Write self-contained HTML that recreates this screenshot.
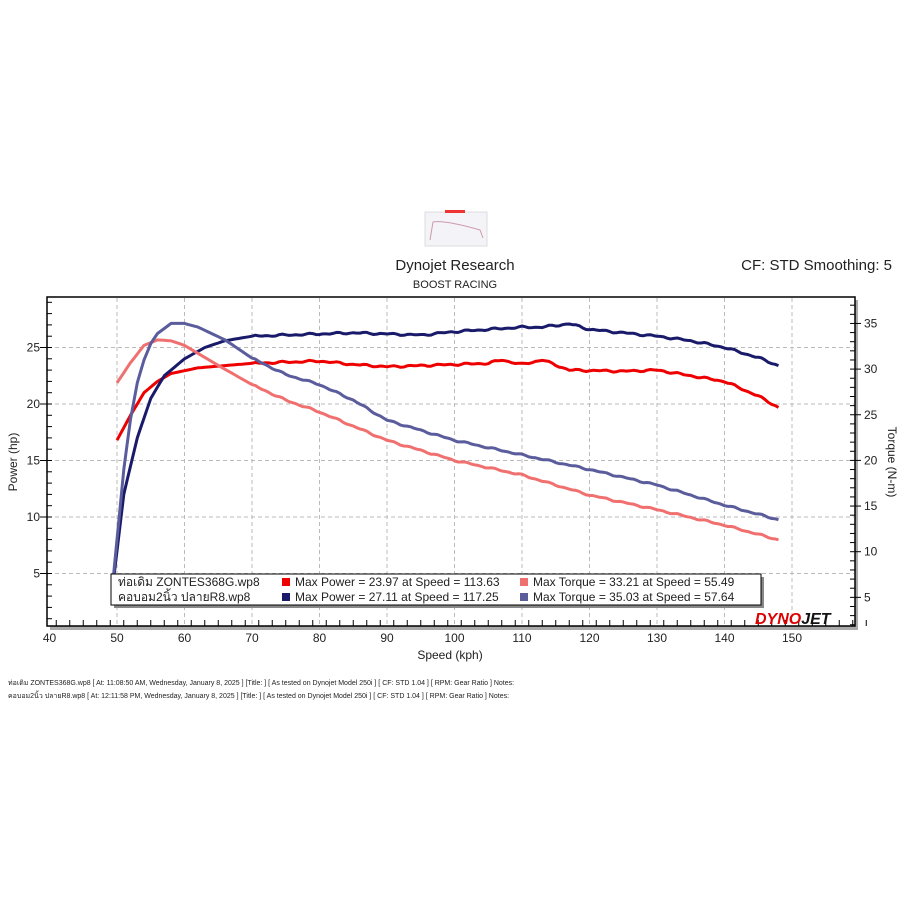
<!DOCTYPE html>
<html><head><meta charset="utf-8"><style>
body{margin:0;background:#fff;width:910px;height:910px;overflow:hidden}
svg{position:absolute;left:0;top:0}
text{font-family:"Liberation Sans","DejaVu Sans",sans-serif}
</style></head><body>
<svg id="s" width="910" height="910" xmlns="http://www.w3.org/2000/svg">
<rect x="0" y="0" width="910" height="910" fill="#fff"/>
<rect x="425" y="212" width="62" height="34" fill="#f4f4f8" stroke="#ddd"/>
<path d="M430,240 L433,222 Q445,220 480,230 L483,238" fill="none" stroke="#c9a" stroke-width="1"/>
<rect x="445" y="210" width="20" height="3" fill="#e33"/>
<text x="455" y="270" font-size="15" text-anchor="middle" fill="#222">Dynojet Research</text>
<text x="455" y="288" font-size="11" text-anchor="middle" fill="#222">BOOST RACING</text>
<text x="892" y="270" font-size="15" text-anchor="end" fill="#222">CF: STD Smoothing: 5</text>
<rect x="50" y="300" width="808" height="330" fill="#aaa"/>
<rect x="47" y="297" width="808" height="329" fill="#fff" stroke="#000" stroke-width="1.5"/>
<g id="grid" stroke="#bbb" stroke-dasharray="4,3" stroke-width="1"></g>
<g id="ticks" stroke="#000" stroke-width="1"></g>
<g id="lbl" font-size="12" fill="#222"></g>
<g id="curves" fill="none" stroke-width="3" stroke-linejoin="round"></g>
<text x="450" y="659" font-size="12" text-anchor="middle" fill="#222">Speed (kph)</text>
<text transform="translate(17,462) rotate(-90)" font-size="12" text-anchor="middle" fill="#222">Power (hp)</text>
<text transform="translate(888,462) rotate(90)" font-size="12" text-anchor="middle" fill="#222">Torque (N-m)</text>
<rect x="114" y="577" width="650" height="31" fill="#888"/>
<rect x="111" y="574" width="650" height="31" fill="#fff" stroke="#000"/>
<g font-size="12" fill="#222">
<text x="118" y="586">ท่อเดิม ZONTES368G.wp8</text>
<text x="118" y="601">คอบอม2นิ้ว ปลายR8.wp8</text>
<rect x="282" y="578" width="8" height="8" fill="#e00"/>
<text x="295" y="586">Max Power = 23.97 at Speed = 113.63</text>
<rect x="282" y="593" width="8" height="8" fill="#1a1a6a"/>
<text x="295" y="601">Max Power = 27.11 at Speed = 117.25</text>
<rect x="520" y="578" width="8" height="8" fill="#f07070"/>
<text x="533" y="586">Max Torque = 33.21 at Speed = 55.49</text>
<rect x="520" y="593" width="8" height="8" fill="#5a5c9c"/>
<text x="533" y="601">Max Torque = 35.03 at Speed = 57.64</text>
</g>
<text x="755" y="624" font-size="16" font-weight="bold" font-style="italic" fill="#d00">DYNO<tspan fill="#111">JET</tspan></text>
<g font-size="7" fill="#222">
<text x="8" y="685">ท่อเดิม ZONTES368G.wp8 [ At: 11:08:50 AM, Wednesday, January 8, 2025 ] [Title: ]  [ As tested on Dynojet Model 250i ] [ CF: STD 1.04 ] [ RPM: Gear Ratio ] Notes:</text>
<text x="8" y="698">คอบอม2นิ้ว ปลายR8.wp8 [ At: 12:11:58 PM, Wednesday, January 8, 2025 ] [Title: ]  [ As tested on Dynojet Model 250i ] [ CF: STD 1.04 ] [ RPM: Gear Ratio ] Notes:</text>
</g>
</svg>
<script>
const X=s=>117+(s-50)*6.75, YL=h=>630-h*11.3, YR=t=>643-t*9.13;
const ns="http://www.w3.org/2000/svg";
function el(p,t,a,txt){const e=document.createElementNS(ns,t);for(const k in a)e.setAttribute(k,a[k]);if(txt!==undefined)e.textContent=txt;document.getElementById(p).appendChild(e);}
for(let s=50;s<=150;s+=10){el('grid','line',{x1:X(s),x2:X(s),y1:298,y2:625});el('lbl','text',{x:X(s),y:642,'text-anchor':'middle'},s);}
el('lbl','text',{x:X(40),y:642,'text-anchor':'middle'},40);
for(let h=5;h<=25;h+=5){el('grid','line',{x1:48,x2:854,y1:YL(h),y2:YL(h)});el('lbl','text',{x:40,y:YL(h)+4,'text-anchor':'end'},h);el('ticks','line',{x1:40,x2:47,y1:YL(h),y2:YL(h)});}
for(let h=1;h<=29;h++)el('ticks','line',{x1:47,x2:52,y1:YL(h),y2:YL(h)});
for(let t=5;t<=35;t+=5){el('lbl','text',{x:864,y:YR(t)+4},t);el('ticks','line',{x1:855,x2:861,y1:YR(t),y2:YR(t)});}
for(let t=2;t<=37;t++)el('ticks','line',{x1:850,x2:855,y1:YR(t),y2:YR(t)});
for(let s=41;s<=161;s+=2)el('ticks','line',{x1:X(s),x2:X(s),y1:620,y2:626});
function curve(pts,f,col,jit){let d='';
 for(let i=0;i<pts.length-1;i++){const[a,va]=pts[i],[b,vb]=pts[i+1];
  for(let s=a;s<b;s+=0.5){const v=va+(vb-va)*(s-a)/(b-a)+(s>70?jit*Math.sin(s*2.3)*Math.sin(s*0.7):0);d+=(d?'L':'M')+X(s).toFixed(1)+','+f(v).toFixed(1);}}
 const l=pts[pts.length-1];d+='L'+X(l[0]).toFixed(1)+','+f(l[1]).toFixed(1);
 el('curves','path',{d:d,stroke:col});}
curve([[50,16.8],[52,19],[54,21],[56,22],[58,22.7],[62,23.2],[70,23.6],[80,23.8],[85,23.5],[90,23.3],[100,23.5],[105,23.6],[107,23.9],[110,23.5],[113,23.9],[117,23],[125,22.9],[130,23],[135,22.5],[140,22],[145,20.7],[148,19.7]],YL,'#e00',0.1);
curve([[49.5,4.5],[51,12],[53,17],[55,20.5],[57,22.5],[60,24],[63,25],[66,25.6],[70,26.0],[80,26.2],[85,26.3],[90,26.2],[95,26.1],[100,26.4],[110,26.8],[113,26.8],[117,27.1],[120,26.6],[125,26.3],[130,26.0],[135,25.6],[140,25.0],[145,24.1],[148,23.4]],YL,'#1a1a6a',0.1);
curve([[50,28.5],[52,30.7],[54,32.6],[56,33.2],[58,33.1],[60,32.6],[65,30.4],[70,28.3],[75,26.6],[80,25.3],[90,22.2],[100,20],[110,18.4],[120,16.2],[130,14.6],[140,12.9],[148,11.3]],YR,'#f07070',0.1);
curve([[49.5,7.5],[51,19],[52,24.5],[53,28.5],[54,31],[55,32.8],[56,33.9],[58,35.0],[60,35],[62,34.6],[66,33.2],[70,31.2],[75,29.4],[80,28.3],[85,26.6],[90,24.4],[100,22.2],[110,20.6],[120,19],[130,17.3],[140,15.1],[148,13.5]],YR,'#5a5c9c',0.1);
</script>
</body></html>
